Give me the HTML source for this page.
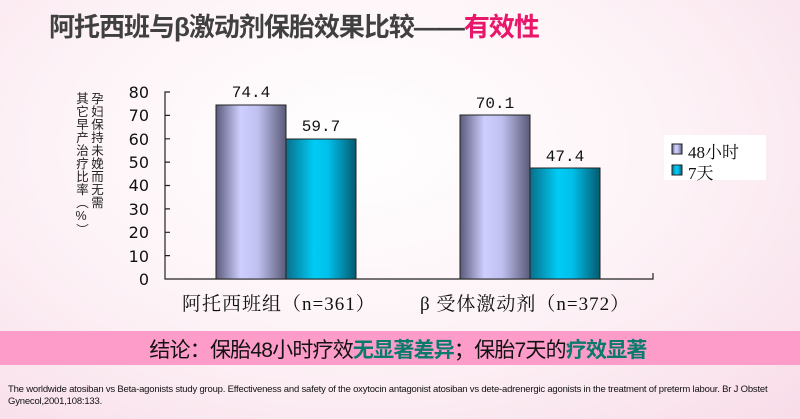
<!DOCTYPE html><html><head><meta charset="utf-8"><style>
body{margin:0;width:800px;height:419px;overflow:hidden;background:radial-gradient(ellipse at 45% 35%,#ffffff 0%,#fdf3f7 50%,#f8dce8 100%);font-family:"Liberation Sans","Noto Sans CJK SC",sans-serif;position:relative}
.a{position:absolute;white-space:nowrap}
.s{font-family:"Liberation Serif","Noto Serif CJK SC",serif;color:#111}
.v{writing-mode:vertical-rl;text-orientation:upright;font-size:12.5px;line-height:15px;letter-spacing:0.5px;color:#222}
</style></head><body>
<div class="a" style="left:49px;top:7px;font-size:26px;font-weight:bold;color:#404040;letter-spacing:-1px">阿托西班与β激动剂保胎效果比较——<span style="color:#e8176a">有效性</span></div>
<svg class="a" style="left:0;top:0" width="800" height="419">
<defs>
<linearGradient id="g1" x1="0" x2="1"><stop offset="0" stop-color="#5a5a7c"/><stop offset=".35" stop-color="#cfcfff"/><stop offset=".6" stop-color="#c0c0f0"/><stop offset="1" stop-color="#5a5a78"/></linearGradient>
<linearGradient id="g2" x1="0" x2="1"><stop offset="0" stop-color="#0a6f8a"/><stop offset=".4" stop-color="#00ccf5"/><stop offset=".6" stop-color="#00c0ea"/><stop offset="1" stop-color="#055a70"/></linearGradient>
</defs>
<g stroke="#222" stroke-width="1.2" fill="none">
<path d="M170 92H165V279H653V273"/>
<path d="M165 115.4h5M165 138.8h5M165 162.1h5M165 185.5h5M165 208.9h5M165 232.3h5M165 255.6h5"/>
</g>
<rect x="216" y="105" width="70" height="174" fill="url(#g1)" stroke="#222"/>
<rect x="286" y="139" width="70" height="140" fill="url(#g2)" stroke="#222"/>
<rect x="460" y="115" width="70" height="164" fill="url(#g1)" stroke="#222"/>
<rect x="530" y="168" width="70" height="111" fill="url(#g2)" stroke="#222"/>
<g font-family="DejaVu Sans,sans-serif" font-size="16" fill="#111" text-anchor="end">
<text x="149" y="98">80</text><text x="149" y="121">70</text><text x="149" y="145">60</text><text x="149" y="168">50</text><text x="149" y="191">40</text><text x="149" y="215">30</text><text x="149" y="238">20</text><text x="149" y="262">10</text><text x="149" y="285">0</text>
</g>
<g font-family="Liberation Mono,monospace" font-size="16" fill="#111" text-anchor="middle">
<text x="251" y="97">74.4</text><text x="321" y="131">59.7</text><text x="495" y="108">70.1</text><text x="565" y="161">47.4</text>
</g>
<rect x="664" y="135" width="102" height="45" fill="#fff"/>
<rect x="672" y="144" width="10" height="10" fill="url(#g1)" stroke="#222"/>
<rect x="672" y="165" width="10" height="10" fill="url(#g2)" stroke="#222"/>
</svg>
<div class="a s" style="left:688px;top:138px;font-size:17px">48小时</div>
<div class="a s" style="left:688px;top:159px;font-size:17px">7天</div>
<div class="a v" style="left:88px;top:92px">孕妇保持未娩而无需</div>
<div class="a v" style="left:73px;top:92px">其它早产治疗比率（%）</div>
<div class="a s" style="left:182px;top:289px;font-size:19px;letter-spacing:1px">阿托西班组（n=361）</div>
<div class="a s" style="left:420px;top:289px;font-size:19px;letter-spacing:1px">β 受体激动剂（n=372）</div>
<div class="a" style="left:0;top:331px;width:800px;height:34px;background:#fd9cc8"></div>
<div class="a" style="left:0;top:334px;width:796px;text-align:center;font-size:21px;color:#111;letter-spacing:-0.8px">结论：保胎48小时疗效<b style="color:#0a7a6c">无显著差异</b>；保胎7天的<b style="color:#0a7a6c">疗效显著</b></div>
<div class="a" style="left:8px;top:384px;width:790px;font-size:9.5px;line-height:12px;color:#111;white-space:normal;letter-spacing:-0.2px">The worldwide atosiban vs Beta-agonists study group. Effectiveness and safety of the oxytocin antagonist atosiban vs dete-adrenergic agonists in the treatment of preterm labour. Br J Obstet Gynecol,2001,108:133.</div>
</body></html>
